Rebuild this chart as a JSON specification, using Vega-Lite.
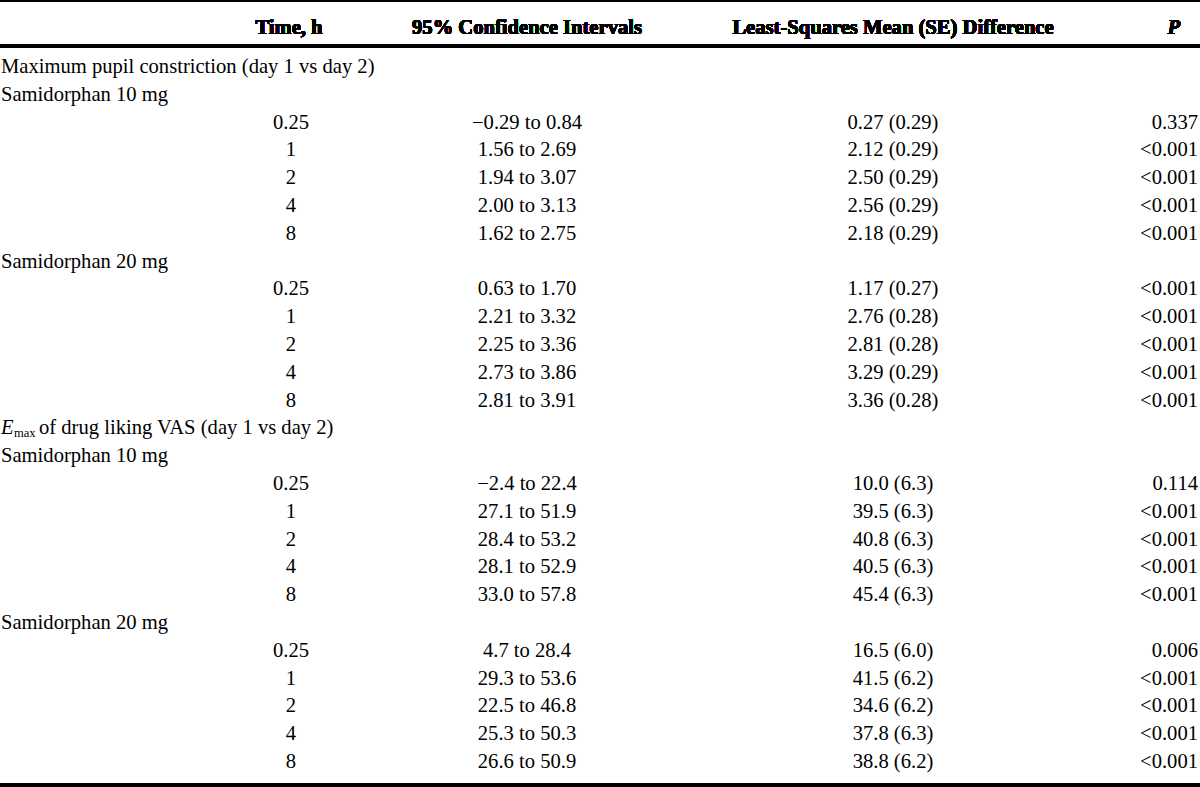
{
  "$schema": "https://vega.github.io/schema/vega-lite/v6.json",
  "width": 1200,
  "height": 787,
  "padding": 0,
  "autosize": {"type": "none"},
  "background": "white",
  "config": {"view": {"stroke": null}, "text": {"font": "Liberation Serif", "fontSize": 20.6, "color": "#000000", "baseline": "middle"}},
  "data": {"values": [
    {"row": 1, "label": "Maximum pupil constriction (day 1 vs day 2)"},
    {"row": 2, "label": "Samidorphan 10 mg"},
    {"row": 3, "time": "0.25", "ci": "−0.29 to 0.84", "lsm": "0.27 (0.29)", "p": "0.337"},
    {"row": 4, "time": "1", "ci": "1.56 to 2.69", "lsm": "2.12 (0.29)", "p": "<0.001"},
    {"row": 5, "time": "2", "ci": "1.94 to 3.07", "lsm": "2.50 (0.29)", "p": "<0.001"},
    {"row": 6, "time": "4", "ci": "2.00 to 3.13", "lsm": "2.56 (0.29)", "p": "<0.001"},
    {"row": 7, "time": "8", "ci": "1.62 to 2.75", "lsm": "2.18 (0.29)", "p": "<0.001"},
    {"row": 8, "label": "Samidorphan 20 mg"},
    {"row": 9, "time": "0.25", "ci": "0.63 to 1.70", "lsm": "1.17 (0.27)", "p": "<0.001"},
    {"row": 10, "time": "1", "ci": "2.21 to 3.32", "lsm": "2.76 (0.28)", "p": "<0.001"},
    {"row": 11, "time": "2", "ci": "2.25 to 3.36", "lsm": "2.81 (0.28)", "p": "<0.001"},
    {"row": 12, "time": "4", "ci": "2.73 to 3.86", "lsm": "3.29 (0.29)", "p": "<0.001"},
    {"row": 13, "time": "8", "ci": "2.81 to 3.91", "lsm": "3.36 (0.28)", "p": "<0.001"},
    {"row": 14, "italic": "E", "sub": "max", "rest": "of drug liking VAS (day 1 vs day 2)"},
    {"row": 15, "label": "Samidorphan 10 mg"},
    {"row": 16, "time": "0.25", "ci": "−2.4 to 22.4", "lsm": "10.0 (6.3)", "p": "0.114"},
    {"row": 17, "time": "1", "ci": "27.1 to 51.9", "lsm": "39.5 (6.3)", "p": "<0.001"},
    {"row": 18, "time": "2", "ci": "28.4 to 53.2", "lsm": "40.8 (6.3)", "p": "<0.001"},
    {"row": 19, "time": "4", "ci": "28.1 to 52.9", "lsm": "40.5 (6.3)", "p": "<0.001"},
    {"row": 20, "time": "8", "ci": "33.0 to 57.8", "lsm": "45.4 (6.3)", "p": "<0.001"},
    {"row": 21, "label": "Samidorphan 20 mg"},
    {"row": 22, "time": "0.25", "ci": "4.7 to 28.4", "lsm": "16.5 (6.0)", "p": "0.006"},
    {"row": 23, "time": "1", "ci": "29.3 to 53.6", "lsm": "41.5 (6.2)", "p": "<0.001"},
    {"row": 24, "time": "2", "ci": "22.5 to 46.8", "lsm": "34.6 (6.2)", "p": "<0.001"},
    {"row": 25, "time": "4", "ci": "25.3 to 50.3", "lsm": "37.8 (6.3)", "p": "<0.001"},
    {"row": 26, "time": "8", "ci": "26.6 to 50.9", "lsm": "38.8 (6.2)", "p": "<0.001"}
  ]},
  "encoding": {
    "y": {"field": "row", "type": "quantitative", "scale": {"domain": [1, 26], "range": [67, 762], "zero": false, "nice": false}, "axis": null}
  },
  "layer": [
    {"mark": {"type": "text", "align": "left"}, "transform": [{"filter": "datum.label"}], "encoding": {"x": {"value": 1}, "text": {"field": "label"}}},
    {"mark": {"type": "text", "align": "left", "fontStyle": "italic"}, "transform": [{"filter": "datum.italic"}], "encoding": {"x": {"value": 1}, "text": {"field": "italic"}}},
    {"mark": {"type": "text", "align": "left", "fontSize": 12.5, "dy": 5}, "transform": [{"filter": "datum.sub"}], "encoding": {"x": {"value": 14}, "text": {"field": "sub"}}},
    {"mark": {"type": "text", "align": "left"}, "transform": [{"filter": "datum.rest"}], "encoding": {"x": {"value": 39}, "text": {"field": "rest"}}},
    {"mark": {"type": "text", "align": "center"}, "transform": [{"filter": "datum.time"}], "encoding": {"x": {"value": 291}, "text": {"field": "time"}}},
    {"mark": {"type": "text", "align": "center"}, "transform": [{"filter": "datum.ci"}], "encoding": {"x": {"value": 527}, "text": {"field": "ci"}}},
    {"mark": {"type": "text", "align": "center"}, "transform": [{"filter": "datum.lsm"}], "encoding": {"x": {"value": 893}, "text": {"field": "lsm"}}},
    {"mark": {"type": "text", "align": "right"}, "transform": [{"filter": "datum.p"}], "encoding": {"x": {"value": 1198}, "text": {"field": "p"}}},
    {"mark": {"type": "text", "align": "center", "fontWeight": "bold"}, "encoding": {"x": {"value": 289}, "y": {"value": 28}, "text": {"value": "Time, h"}}},
    {"mark": {"type": "text", "align": "center", "fontWeight": "bold"}, "encoding": {"x": {"value": 527}, "y": {"value": 28}, "text": {"value": "95% Confidence Intervals"}}},
    {"mark": {"type": "text", "align": "center", "fontWeight": "bold"}, "encoding": {"x": {"value": 893}, "y": {"value": 28}, "text": {"value": "Least-Squares Mean (SE) Difference"}}},
    {"mark": {"type": "text", "align": "right", "fontWeight": "bold", "fontStyle": "italic"}, "encoding": {"x": {"value": 1180}, "y": {"value": 28}, "text": {"value": "P"}}},
    {"mark": {"type": "rule", "strokeWidth": 1.5, "color": "#000000"}, "encoding": {"x": {"value": 0}, "x2": {"value": 1200}, "y": {"value": 1}}},
    {"mark": {"type": "rule", "strokeWidth": 2.5, "color": "#000000"}, "encoding": {"x": {"value": 0}, "x2": {"value": 1200}, "y": {"value": 46}}},
    {"mark": {"type": "rule", "strokeWidth": 2.5, "color": "#000000"}, "encoding": {"x": {"value": 0}, "x2": {"value": 1200}, "y": {"value": 785}}}
  ]
}
